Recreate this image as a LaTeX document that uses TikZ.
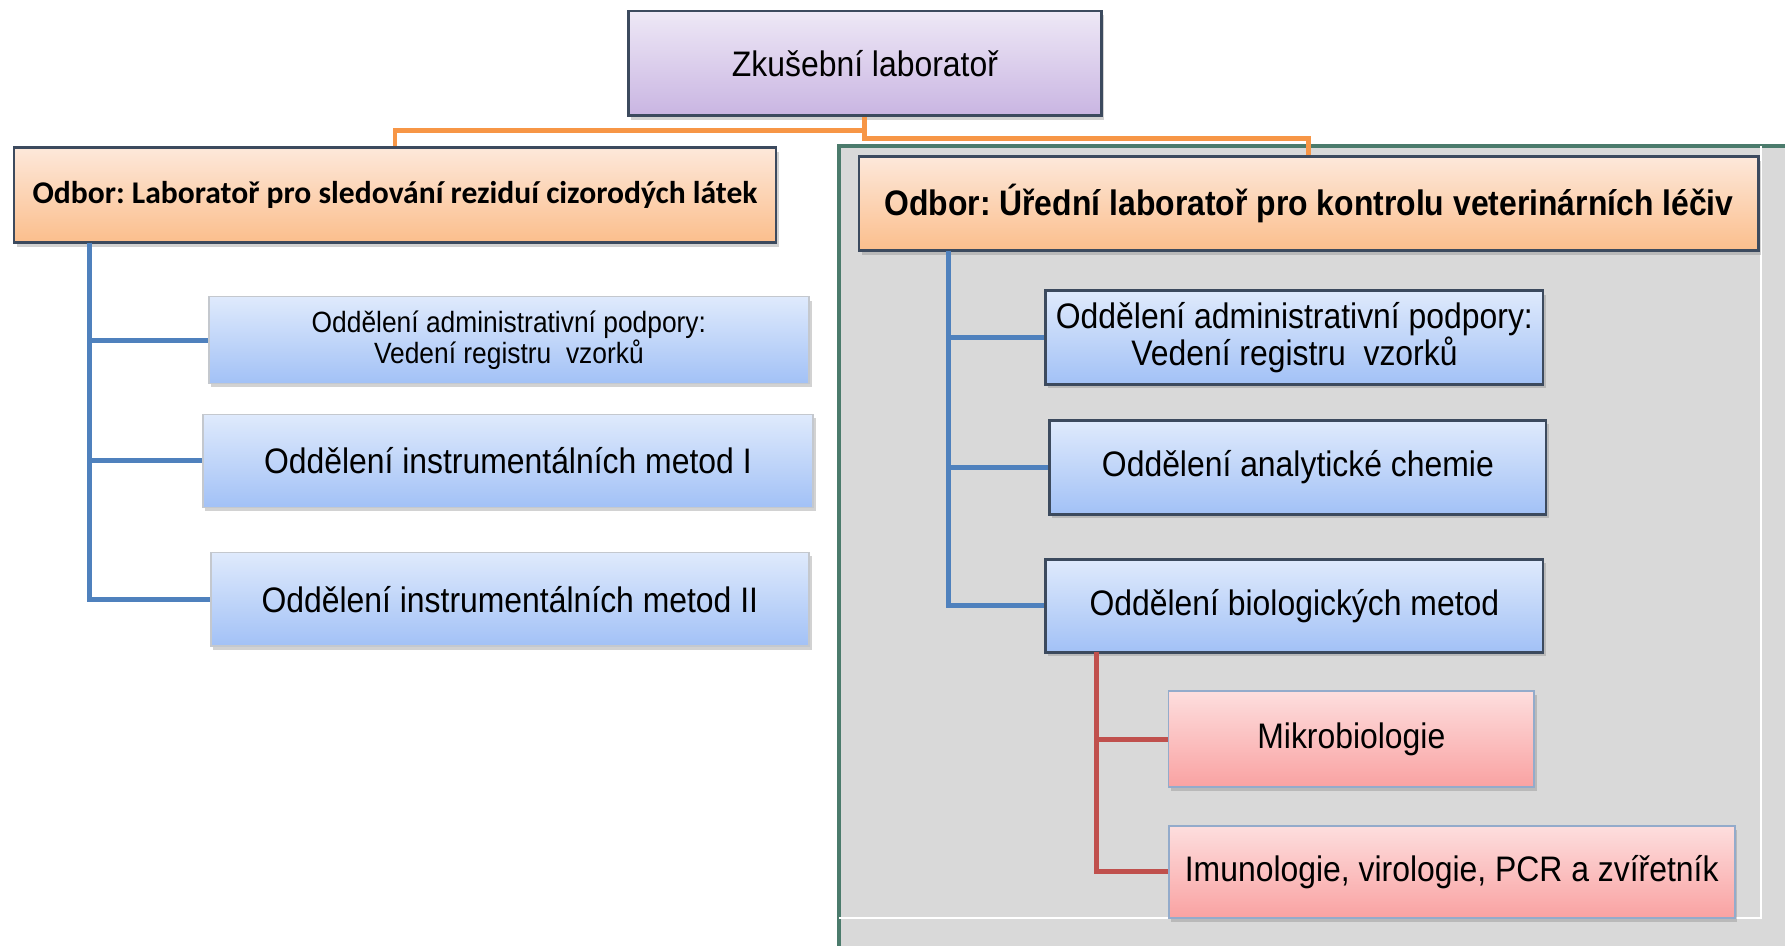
\documentclass[tikz,border=0pt]{standalone}
\usepackage{xcolor}
\usepackage{fontspec}
\setmainfont{Liberation Sans}[FakeStretch=0.9]
\newfontfamily\calibri{Carlito}
\usepackage{tikz}
\usetikzlibrary{shadows}
\frenchspacing

\definecolor{lilactop}{HTML}{EEE8F6}
\definecolor{lilacbot}{HTML}{C9B5E2}
\definecolor{peachtop}{HTML}{FDE8DA}
\definecolor{peachbot}{HTML}{FBBE8C}
\definecolor{bluetop}{HTML}{DFEAFC}
\definecolor{bluebot}{HTML}{A2C1F6}
\definecolor{pinktop}{HTML}{FDDEDE}
\definecolor{pinkbot}{HTML}{F9A2A2}
\definecolor{darkedge}{HTML}{3C4A5E}
\definecolor{softedge}{HTML}{C4C8CE}
\definecolor{pinkedge}{HTML}{93ABCB}
\definecolor{orangeline}{HTML}{F79646}
\definecolor{blueline}{HTML}{4F81BD}
\definecolor{redline}{HTML}{C0504D}
\definecolor{panelgray}{HTML}{D9D9D9}
\definecolor{panelgreen}{HTML}{4B7B6C}

\begin{document}
\begin{tikzpicture}[x=0.02cm, y=-0.02cm,
    box/.style={rectangle, inner sep=0pt, align=center, shading=axis,
        font=\fontsize{20.2}{20.8}\selectfont,
        drop shadow={shadow xshift=1.5pt, shadow yshift=-2.2pt, opacity=.35}},
    lilacbox/.style={box, draw=darkedge, line width=1.6pt, top color=lilactop, bottom color=lilacbot},
    peachbox/.style={box, draw=darkedge, line width=1.6pt, top color=peachtop, bottom color=peachbot},
    bluebox/.style={box, draw=darkedge, line width=1.6pt, top color=bluetop, bottom color=bluebot},
    paleblue/.style={box, draw=softedge, line width=.8pt, top color=bluetop, bottom color=bluebot},
    pinkbox/.style={box, draw=pinkedge, line width=1pt, top color=pinktop, bottom color=pinkbot},
    link/.style={line width=2.8pt}]

    \fill[white] (0,0) rectangle (1787,947);

    % grey panel round the second branch
    \fill[panelgray] (840,146) rectangle (1787,947);
    \draw[panelgreen, line width=2.5pt] (840,947) -- (840,146) -- (1787,146);
    \draw[white, line width=1.2pt] (1763,146) -- (1763,919) -- (840,919);

    \node[lilacbox, minimum width=9.48cm, minimum height=2.1cm] (top) at (866,63.5) {Zkušební laboratoř};

    \node[peachbox, minimum width=15.26cm, minimum height=1.9cm, font=\calibri\bfseries\fontsize{18}{20}\selectfont] (lhead) at (395.5,195.5) {Odbor: Laboratoř pro sledování reziduí cizorodých látek};
    \node[peachbox, minimum width=18.02cm, minimum height=1.88cm, font=\bfseries\fontsize{20.2}{20.8}\selectfont] (rhead) at (1310.5,204) {Odbor: Úřední laboratoř pro kontrolu veterinárních léčiv};

    % left branch
    \node[paleblue, minimum width=12.02cm, minimum height=1.74cm, font=\fontsize{16.7}{17.6}\selectfont] (L1) at (509.5,340.5) {Oddělení administrativní podpory:\\Vedení registru\ \ vzorků};
    \node[paleblue, minimum width=12.22cm, minimum height=1.86cm] (L2) at (508.5,461.5) {Oddělení instrumentálních metod I};
    \node[paleblue, minimum width=11.98cm, minimum height=1.88cm] (L3) at (510.5,600) {Oddělení instrumentálních metod II};

    % right branch
    \node[bluebox, minimum width=9.96cm, minimum height=1.88cm] (R1) at (1296,338) {Oddělení administrativní podpory:\\Vedení registru\ \ vzorků};
    \node[bluebox, minimum width=9.94cm, minimum height=1.88cm] (R2) at (1299.5,468) {Oddělení analytické chemie};
    \node[bluebox, minimum width=9.96cm, minimum height=1.86cm] (R3) at (1296,606.5) {Oddělení biologických metod};

    \node[pinkbox, minimum width=7.32cm, minimum height=1.92cm] (M) at (1353,740) {Mikrobiologie};
    \node[pinkbox, minimum width=11.34cm, minimum height=1.84cm] (I) at (1453.5,873) {Imunologie, virologie, PCR a zvířetník};

    \coordinate (ltrunk) at (90,243);
    \coordinate (rtrunk) at (950,251);
    \coordinate (mtrunk) at (1098,653);

    \draw[link, orangeline] (top.south) -- ++(0,13) -| (lhead.north);
    \draw[link, orangeline] (top.south) -- ++(0,21) -| (rhead.north);

    \draw[link, blueline] (ltrunk) |- (L1.west);
    \draw[link, blueline] (ltrunk) |- (L2.west);
    \draw[link, blueline] (ltrunk) |- (L3.west);

    \draw[link, blueline] (rtrunk) |- (R1.west);
    \draw[link, blueline] (rtrunk) |- (R2.west);
    \draw[link, blueline] (rtrunk) |- (R3.west);

    \draw[link, redline] (mtrunk) |- (M.west);
    \draw[link, redline] (mtrunk) |- (I.west);
\end{tikzpicture}
\end{document}
